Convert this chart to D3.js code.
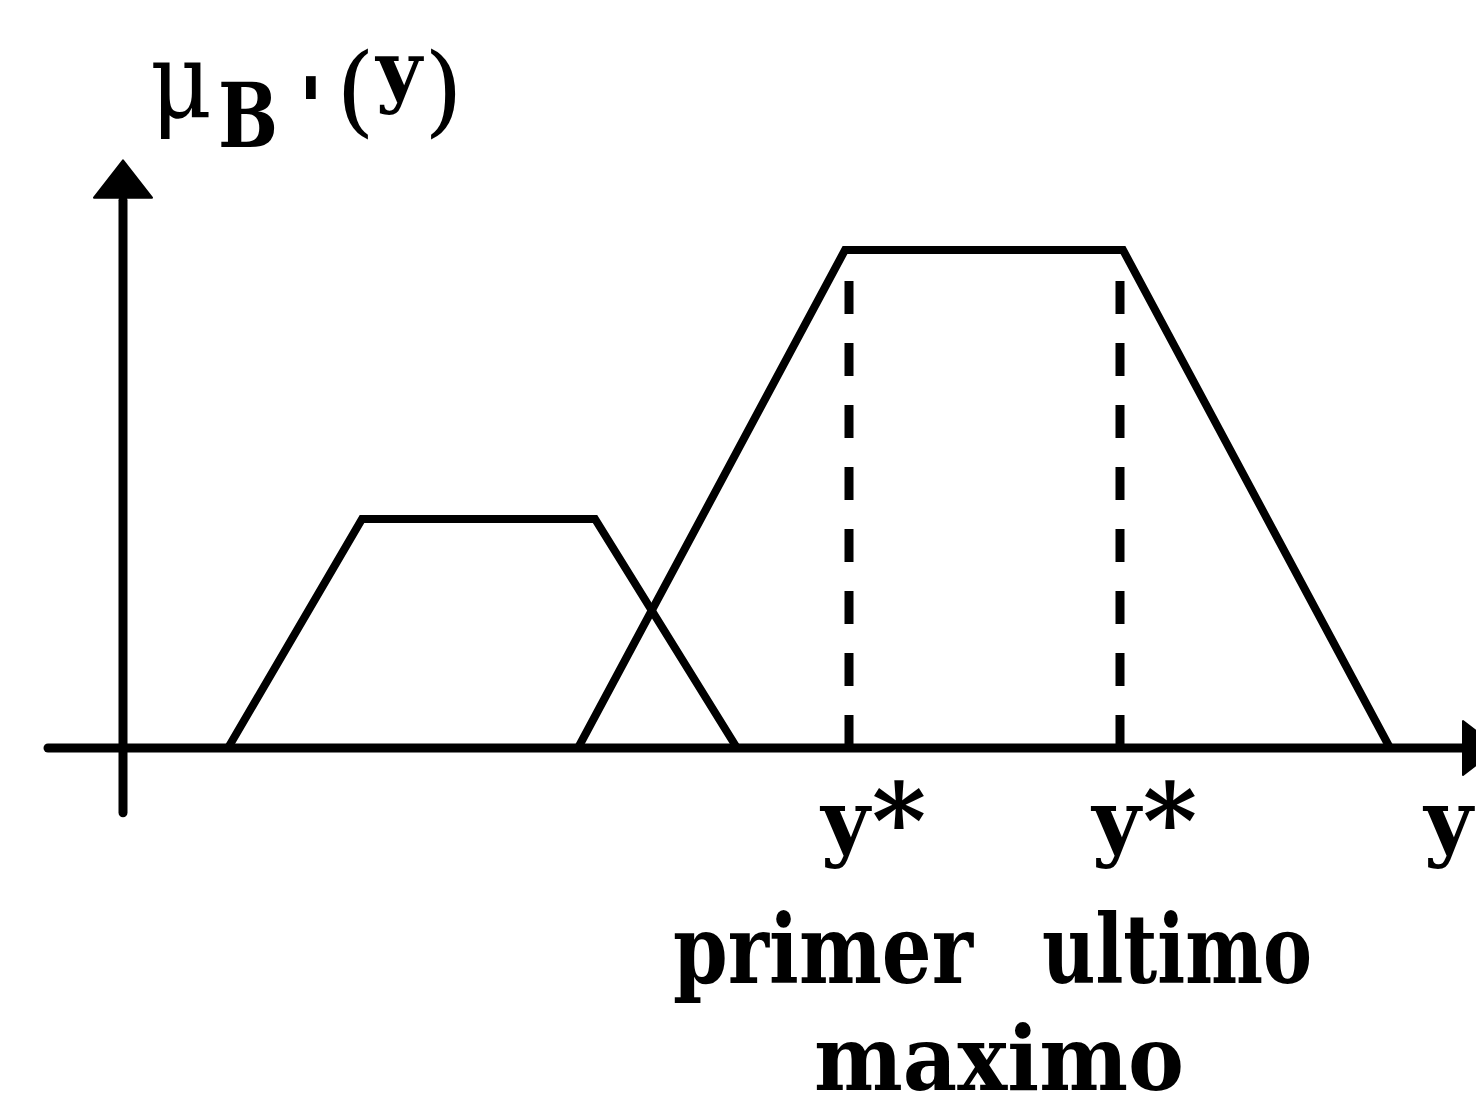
<!DOCTYPE html>
<html>
<head>
<meta charset="utf-8">
<script src="https://cdn.jsdelivr.net/npm/d3@7"></script>
<style>
  html, body { margin: 0; padding: 0; background: #fff; }
  svg { display: block; }
  text { font-family: "DejaVu Serif", serif; fill: #000; }
</style>
</head>
<body>
<svg id="chart" width="1476" height="1112"></svg>
<script>
// Two trapezoidal membership functions on the output universe y
const lowX = [1.05, 2.39, 4.72, 6.14];
const lowMu = [0, 0.46, 0.46, 0];
const highX = [4.55, 7.22, 10.0, 12.67];
const highMu = [0, 1, 1, 0];

// First and last point where the aggregated set reaches its maximum
const maxX = [7.26, 9.97];
const maxLabels = ["y", "y"];
const maxMarks = ["*", "*"];
const methodWords = ["primer", "ultimo"];
const methodName = "maximo";
const axisLabelX = "y";

const svg = d3.select("#chart");

const x = d3.scaleLinear().domain([0, 13.53]).range([123, 1476]);
const y = d3.scaleLinear().domain([0, 1]).range([748, 250]);

const ink = "#000";
const line = d3.line().x(d => x(d[0])).y(d => y(d[1]));

// Axes with arrowheads
svg.append("line")
  .attr("x1", x(-0.75)).attr("x2", x(13.45))
  .attr("y1", y(0)).attr("y2", y(0))
  .attr("stroke", ink).attr("stroke-width", 9).attr("stroke-linecap", "round");
svg.append("line")
  .attr("x1", x(0)).attr("x2", x(0))
  .attr("y1", y(-0.13)).attr("y2", y(1.1))
  .attr("stroke", ink).attr("stroke-width", 9).attr("stroke-linecap", "round");

svg.append("path")
  .attr("d", `M${x(0)},${y(1.18)} L${x(0) - 29},${y(1.105)} L${x(0) + 29},${y(1.105)} Z`)
  .attr("fill", ink).attr("stroke", ink).attr("stroke-width", 2).attr("stroke-linejoin", "round");
svg.append("path")
  .attr("d", `M${x(13.75)},${y(0)} L${x(13.40)},${y(0) - 27} L${x(13.40)},${y(0) + 27} Z`)
  .attr("fill", ink).attr("stroke", ink).attr("stroke-width", 2).attr("stroke-linejoin", "round");

// Trapezoids
[[lowX, lowMu], [highX, highMu]].forEach(([xs, mus]) => {
  svg.append("path")
    .attr("d", line(xs.map((v, i) => [v, mus[i]])))
    .attr("fill", "none").attr("stroke", ink)
    .attr("stroke-width", 8).attr("stroke-linejoin", "miter");
});

// Dashed markers at the first and last maximum
maxX.forEach(v => {
  svg.append("line")
    .attr("x1", x(v)).attr("x2", x(v))
    .attr("y1", y(0)).attr("y2", y(1))
    .attr("stroke", ink).attr("stroke-width", 9)
    .attr("stroke-dasharray", "33 29");
});

// y* labels under the markers
maxX.forEach((v, i) => {
  const t = svg.append("text")
    .attr("x", x(v) - 28).attr("y", 850)
    .attr("font-size", 84).style("font-weight", "bold");
  t.append("tspan").text(maxLabels[i]);
  t.append("tspan").attr("dx", 2).attr("dy", 8).attr("font-size", 104).text(maxMarks[i]);
});
svg.append("text")
  .attr("x", 1424).attr("y", 850)
  .attr("font-size", 84).style("font-weight", "bold")
  .text(axisLabelX);

// Method name
svg.append("text")
  .attr("x", 673).attr("y", 983)
  .attr("font-size", 96).style("font-weight", "bold")
  .attr("textLength", 300).attr("lengthAdjust", "spacingAndGlyphs")
  .text(methodWords[0]);
svg.append("text")
  .attr("x", 1042).attr("y", 983)
  .attr("font-size", 96).style("font-weight", "bold")
  .attr("textLength", 270).attr("lengthAdjust", "spacingAndGlyphs")
  .text(methodWords[1]);
svg.append("text")
  .attr("x", 814).attr("y", 1090)
  .attr("font-size", 90).style("font-weight", "bold")
  .attr("textLength", 370).attr("lengthAdjust", "spacingAndGlyphs")
  .text(methodName);

// Vertical axis title: mu, subscript B, prime, (y)
svg.append("text").attr("x", 150).attr("y", 117)
  .attr("font-size", 104).style("font-weight", "normal")
  .attr("textLength", 62).attr("lengthAdjust", "spacingAndGlyphs")
  .text("μ");
svg.append("text").attr("x", 218).attr("y", 147)
  .attr("font-size", 90).style("font-weight", "bold")
  .attr("textLength", 60).attr("lengthAdjust", "spacingAndGlyphs")
  .text("B");
svg.append("text").attr("x", 298).attr("y", 138)
  .attr("font-size", 84).style("font-weight", "bold")
  .text("'");
svg.append("text").attr("x", 336).attr("y", 124)
  .attr("font-size", 100).style("font-weight", "normal")
  .text("(");
svg.append("text").attr("x", 376).attr("y", 98)
  .attr("font-size", 78).style("font-weight", "bold")
  .attr("textLength", 46).attr("lengthAdjust", "spacingAndGlyphs")
  .text("y");
svg.append("text").attr("x", 424).attr("y", 124)
  .attr("font-size", 100).style("font-weight", "normal")
  .text(")");
</script>
</body>
</html>
